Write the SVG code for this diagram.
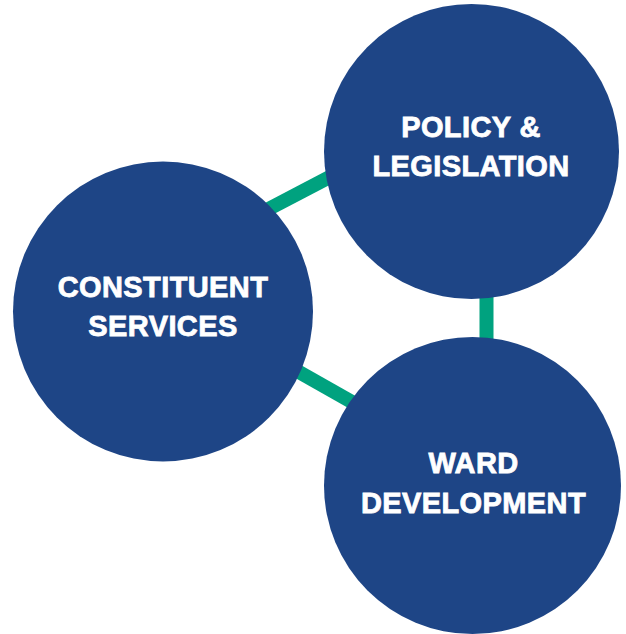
<svg xmlns="http://www.w3.org/2000/svg" width="626" height="634" viewBox="0 0 626 634">
<style>
.node{fill:#1e4586}
.conn{stroke:#00a27f;stroke-width:14;fill:none}
.lbl{font-family:"Liberation Sans",Arial,sans-serif;font-weight:700;font-size:29px;fill:#ffffff;stroke:#ffffff;stroke-width:0.8px;text-anchor:middle;letter-spacing:0.4px}
</style>
<rect width="626" height="634" fill="#ffffff"/>
<g id="connectors">
<line class="conn" x1="255" y1="216" x2="345" y2="169"/>
<line class="conn" x1="486.5" y1="280" x2="486.5" y2="355"/>
<line class="conn" x1="270" y1="355.6" x2="380" y2="417.8"/>
</g>
<g id="policy">
<circle class="node" cx="471.5" cy="151.5" r="147.5"/>
<text class="lbl" x="471" y="137">POLICY &amp;</text>
<text class="lbl" x="471" y="176">LEGISLATION</text>
</g>
<g id="constituent">
<circle class="node" cx="163" cy="311.5" r="150"/>
<text class="lbl" x="163" y="297">CONSTITUENT</text>
<text class="lbl" x="163" y="336">SERVICES</text>
</g>
<g id="ward">
<circle class="node" cx="472.5" cy="485.5" r="148.5"/>
<text class="lbl" x="473.5" y="473">WARD</text>
<text class="lbl" x="473.5" y="513">DEVELOPMENT</text>
</g>
</svg>
